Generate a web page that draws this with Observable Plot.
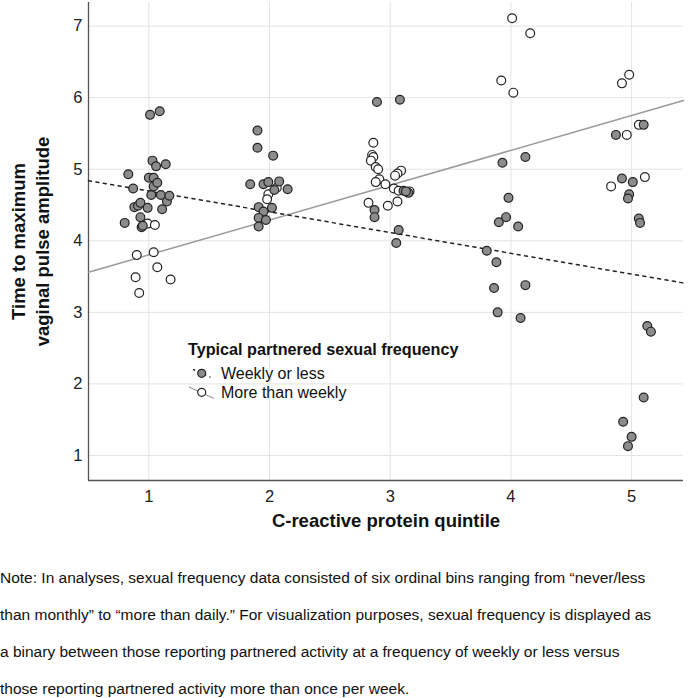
<!DOCTYPE html>
<html><head><meta charset="utf-8">
<script src="https://cdn.jsdelivr.net/npm/d3@7"></script>
<script src="https://cdn.jsdelivr.net/npm/@observablehq/plot@0.6"></script>
<style>
body{margin:0;background:#fff;font-family:"Liberation Sans",Arial,sans-serif;}
#note{font-size:15.5px;color:#111;padding-top:14px;}
#note div{height:37px;line-height:37px;white-space:nowrap;}
</style></head><body>
<div id="chart"></div>
<div id="note"></div>
<script>
// Categories / ticks
const xTicks = [1, 2, 3, 4, 5];
const yTicks = [1, 2, 3, 4, 5, 6, 7];
const seriesNames = ["Weekly or less", "More than weekly"];

// Weekly or less (filled) – jittered quintile position and value
const weeklyX = [0.80,0.83,0.87,0.88,0.91,0.93,0.93,0.94,0.95,0.99,1.00,1.01,1.02,1.03,1.04,1.04,1.06,1.07,1.09,1.10,1.11,1.14,1.15,1.17,
  1.90,1.90,2.03,1.84,1.95,1.99,2.08,2.15,2.04,1.91,2.02,1.95,1.91,1.97,1.91,
  2.89,3.08,2.87,2.87,3.07,3.05,3.11,3.15,3.13,
  3.93,4.12,3.98,3.96,3.90,4.06,3.80,3.88,3.86,4.12,3.89,4.08,
  5.10,4.87,4.92,5.01,4.98,4.97,5.06,5.07,5.13,5.16,5.10,4.93,5.00,4.97];
const weeklyY = [4.25,4.93,4.73,4.47,4.49,4.53,4.33,4.19,4.21,4.46,4.88,5.76,4.64,5.12,4.88,4.76,5.04,4.81,5.81,4.64,4.44,5.07,4.55,4.63,
  5.54,5.30,5.19,4.79,4.79,4.82,4.83,4.72,4.71,4.47,4.46,4.41,4.32,4.29,4.20,
  5.94,5.97,4.43,4.33,4.15,3.97,4.70,4.67,4.69,
  5.09,5.17,4.60,4.33,4.26,4.20,3.86,3.70,3.34,3.38,3.00,2.92,
  5.62,5.48,4.87,4.82,4.65,4.59,4.31,4.25,2.81,2.73,1.81,1.47,1.26,1.13];

// More than weekly (open)
const moreX = [0.99,1.05,0.90,1.04,1.07,0.89,1.18,0.92,
  2.06,1.99,1.98,
  2.86,2.85,2.86,2.84,2.88,2.90,2.91,2.88,2.96,3.09,3.06,3.04,3.03,3.07,3.16,2.82,3.06,2.98,
  4.01,4.16,3.92,4.02,
  4.98,4.92,5.06,4.96,4.83,5.11];
const moreY = [4.24,4.22,3.80,3.84,3.63,3.49,3.46,3.27,
  4.74,4.65,4.58,
  5.37,5.20,5.17,5.12,5.03,5.00,4.86,4.82,4.79,4.98,4.94,4.91,4.73,4.70,4.69,4.53,4.55,4.49,
  7.11,6.90,6.24,6.07,
  6.32,6.20,5.62,5.48,4.76,4.89];

// Fitted lines (ends of the x range)
const fitX = [0.5, 5.43];
const weeklyFitY = [4.84, 3.41];
const moreFitY = [3.56, 5.96];

const noteLines = [
  "Note: In analyses, sexual frequency data consisted of six ordinal bins ranging from \u201cnever/less",
  "than monthly\u201d to \u201cmore than daily.\u201d For visualization purposes, sexual frequency is displayed as",
  "a binary between those reporting partnered activity at a frequency of weekly or less versus",
  "those reporting partnered activity more than once per week."
];

const weekly = weeklyX.map((x, i) => ({x, y: weeklyY[i]}));
const more = moreX.map((x, i) => ({x, y: moreY[i]}));
const weeklyFit = fitX.map((x, i) => ({x, y: weeklyFitY[i]}));
const moreFit = fitX.map((x, i) => ({x, y: moreFitY[i]}));

const FONT = "Liberation Sans, Arial, sans-serif";
const chart = Plot.plot({
  width: 688, height: 545,
  marginLeft: 88, marginRight: 5, marginTop: 2, marginBottom: 65,
  style: {fontFamily: FONT, background: "#fff", color: "#111", overflow: "visible"},
  x: {domain: [0.5, 5.43]},
  y: {domain: [0.65, 7.33]},
  marks: [
    Plot.gridX(xTicks, {stroke: "#e4e4e4", strokeOpacity: 1}),
    Plot.gridY(yTicks, {stroke: "#e4e4e4", strokeOpacity: 1}),
    Plot.ruleX([0.5], {stroke: "#555", strokeWidth: 1.3}),
    Plot.ruleY([0.65], {stroke: "#555", strokeWidth: 1.3}),
    Plot.axisX(xTicks, {tickSize: 0, tickPadding: 10, fontSize: 16.5, label: null, fill: "#222", tickFormat: d => String(d)}),
    Plot.axisY(yTicks, {tickSize: 0, tickPadding: 6, fontSize: 16.5, label: null, fill: "#222", tickFormat: d => String(d)}),
    Plot.line(moreFit, {x: "x", y: "y", stroke: "#9a9a9a", strokeWidth: 1.5}),
    Plot.line(weeklyFit, {x: "x", y: "y", stroke: "#222", strokeWidth: 1.5, strokeDasharray: "3,4.5"}),
    Plot.dot(more, {x: "x", y: "y", r: 4.4, fill: "white", stroke: "#222", strokeWidth: 1.2}),
    Plot.dot(weekly, {x: "x", y: "y", r: 4.4, fill: "#8c8c8c", stroke: "#222", strokeWidth: 1.2}),
    Plot.text(["Time to maximum\nvaginal pulse amplitude"], {
      frameAnchor: "left", text: d => d, rotate: -90, dx: -59, fontSize: 18.5,
      fontWeight: "bold", lineHeight: 1.3, fill: "#111", textAnchor: "middle"
    }),
    Plot.text(["C-reactive protein quintile"], {
      frameAnchor: "bottom", text: d => d, dy: 46, fontSize: 18.5, fontWeight: "bold", fill: "#111"
    })
  ]
});
document.getElementById("chart").appendChild(chart);

// Legend inside the plot area
const svg = d3.select(chart);
const lg = svg.append("g").attr("font-family", FONT).attr("fill", "#111").attr("text-anchor", "start");
lg.append("text").attr("x", 188).attr("y", 355).attr("font-size", 16.2).attr("font-weight", "bold")
  .text("Typical partnered sexual frequency");
// weekly
lg.append("line").attr("x1", 193).attr("y1", 369.3).attr("x2", 210.5).attr("y2", 377.3)
  .attr("stroke", "#222").attr("stroke-width", 1.3).attr("stroke-dasharray", "2.5,3.5");
lg.append("circle").attr("cx", 201.7).attr("cy", 373.3).attr("r", 4)
  .attr("fill", "#8c8c8c").attr("stroke", "#222").attr("stroke-width", 1.2);
lg.append("text").attr("x", 221).attr("y", 379).attr("font-size", 16).text(seriesNames[0]);
// more
lg.append("line").attr("x1", 189).attr("y1", 387).attr("x2", 214).attr("y2", 398.5)
  .attr("stroke", "#9a9a9a").attr("stroke-width", 1.3);
lg.append("circle").attr("cx", 201.7).attr("cy", 392.3).attr("r", 4)
  .attr("fill", "white").attr("stroke", "#222").attr("stroke-width", 1.2);
lg.append("text").attr("x", 221).attr("y", 398).attr("font-size", 16).text(seriesNames[1]);

const note = document.getElementById("note");
noteLines.forEach(t => { const d = document.createElement("div"); d.textContent = t; note.appendChild(d); });
</script>
</body></html>
